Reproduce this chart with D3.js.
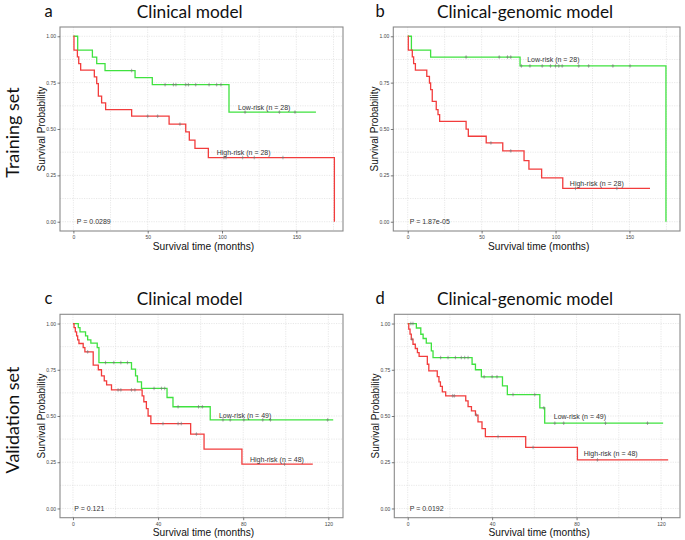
<!DOCTYPE html>
<html><head><meta charset="utf-8">
<script src="https://cdn.jsdelivr.net/npm/d3@7"></script>
<style>body{margin:0;background:#fff}svg{display:block}</style>
</head><body>
<svg id="chart" width="685" height="540"></svg>
<script>
// ---------- Data ----------
const panelLetters = ["a", "b", "c", "d"];
const panelTitles = ["Clinical model", "Clinical-genomic model", "Clinical model", "Clinical-genomic model"];
const rowLabels = ["Training set", "Validation set"];
const pValues = ["P = 0.0289", "P = 1.87e-05", "P = 0.121", "P = 0.0192"];
const lowLabels = ["Low-risk (n = 28)", "Low-risk (n = 28)", "Low-risk (n = 49)", "Low-risk (n = 49)"];
const highLabels = ["High-risk (n = 28)", "High-risk (n = 28)", "High-risk (n = 48)", "High-risk (n = 48)"];
const xTicksTraining = [0, 50, 100, 150];
const xTicksValidation = [0, 40, 80, 120];
const yTicks = [0, 0.25, 0.5, 0.75, 1];

// Panel a (training, clinical)
const aLowT = [2.9, 12.8, 15.7, 21.3, 41.5, 53.1, 104.7];
const aLowS = [0.925, 0.888, 0.852, 0.815, 0.777, 0.739, 0.591];
const aLowCens = [39.2, 61.7, 67.3, 69, 75.6, 77.4, 82.3, 91.3, 96.4, 99.3, 115.5, 138.6, 149.1];
const aLowEnd = 163.2;
const aHighT = [0.4, 2.7, 3.6, 4.9, 14.1, 15.7, 16.8, 19, 21.7, 39.2, 64.4, 75.6, 78, 81.8, 90.8, 175.6];
const aHighS = [0.925, 0.889, 0.853, 0.817, 0.781, 0.745, 0.677, 0.641, 0.605, 0.569, 0.526, 0.485, 0.44, 0.395, 0.346, 0];
const aHighCens = [50, 56.7, 71.7, 101.3, 102.7, 113.9, 121.7, 141];
const aHighEnd = 175.6;

// Panel b (training, clinical-genomic)
const bLowT = [2.5, 15.5, 76, 174.7];
const bLowS = [0.925, 0.888, 0.84, 0];
const bLowCens = [39.5, 61.9, 67.5, 69.7, 76.9, 82.7, 91, 96.6, 100, 102.2, 104.5, 115.7, 122.4, 138.8, 150.4];
const bLowEnd = 174.7;
const bHighT = [0.4, 3.1, 4, 5.2, 12.9, 14.7, 15.5, 16.6, 19.3, 20.5, 21.6, 39.5, 41, 53.1, 64.3, 78.7, 82, 90.6, 104.9];
const bHighS = [0.925, 0.889, 0.853, 0.817, 0.784, 0.748, 0.712, 0.649, 0.604, 0.577, 0.541, 0.499, 0.461, 0.425, 0.382, 0.329, 0.284, 0.237, 0.18];
const bHighCens = [56.3, 69.7, 113.5, 141.5];
const bHighEnd = 163.9;

// Panel c (validation, clinical)
const cLowT = [2.5, 3.3, 5.9, 6.9, 8.4, 11.4, 12.2, 27.5, 29.4, 30.3, 32.2, 44.2, 47, 64.5];
const cLowS = [0.978, 0.955, 0.933, 0.912, 0.894, 0.87, 0.789, 0.753, 0.717, 0.685, 0.649, 0.6, 0.55, 0.479];
const cLowCens = [15.3, 19.2, 22.5, 25.6, 38.1, 41.6, 43.1, 49.4, 59, 60.8, 70.5, 73.9, 80.3, 89.2, 92.8, 119.7];
const cLowEnd = 122.3;
const cHighT = [0.5, 1.1, 1.7, 2.2, 2.8, 4.8, 5.6, 9.5, 11.9, 13.4, 14.7, 15.8, 18.1, 32.5, 33.3, 34.5, 35.3, 36.6, 55.3, 61.6, 79.4];
const cHighS = [0.978, 0.955, 0.933, 0.912, 0.892, 0.87, 0.847, 0.775, 0.75, 0.717, 0.69, 0.668, 0.641, 0.609, 0.577, 0.54, 0.5, 0.459, 0.402, 0.321, 0.24];
const cHighCens = [6.9, 21.2, 22.5, 27.5, 29.1, 42.3, 49.4, 50.9, 58, 99.4];
const cHighEnd = 112.7;

// Panel d (validation, clinical-genomic)
const dLowT = [4.1, 6.2, 7.3, 8.8, 11.2, 12, 30.5, 32.1, 34.9, 44.9, 47.2, 62.6, 64.9];
const dLowS = [0.976, 0.942, 0.919, 0.894, 0.852, 0.816, 0.78, 0.75, 0.712, 0.663, 0.616, 0.544, 0.461];
const dLowCens = [1.5, 2.5, 15.6, 19.1, 22.6, 25.4, 27, 28.6, 36.2, 40, 42.3, 49.9, 60.2, 64.5, 69.7, 73.9, 93.7, 113.6];
const dLowEnd = 121;
const dHighT = [0.5, 1.1, 1.7, 2.5, 3.6, 4.6, 5.4, 9.3, 10, 14, 14.8, 15.5, 16.4, 18, 27.5, 28.6, 30.2, 32.1, 33.3, 35.2, 36.8, 55.9, 80.4];
const dHighS = [0.97, 0.943, 0.915, 0.888, 0.865, 0.843, 0.822, 0.78, 0.744, 0.713, 0.685, 0.66, 0.631, 0.609, 0.582, 0.551, 0.528, 0.505, 0.468, 0.432, 0.389, 0.33, 0.263];
const dHighCens = [2, 21.3, 22.1, 32.5, 42.8, 59.4, 89.9];
const dHighEnd = 123.4;

// label anchor positions in data units [time, survival]
const lowLabelPos = [[110.8, 0.616], [80.8, 0.874], [68.6, 0.505], [69.2, 0.496]];
const highLabelPos = [[96.4, 0.375], [109.7, 0.204], [83.2, 0.267], [83.4, 0.297]];
const pLabelPos = [[2.3, 0], [1.35, 0], [0.6, 0], [0.95, 0]];

// ---------- Layout ----------
const panels = [
  {x0: 60, x1: 343, y0: 27, y1: 231, xd: [-9, 181.4], ticks: xTicksTraining, minor: [25, 75, 125, 175],
   low: [aLowT, aLowS, aLowCens, aLowEnd], high: [aHighT, aHighS, aHighCens, aHighEnd]},
  {x0: 393.3, x1: 680, y0: 27, y1: 231, xd: [-9.75, 184.2], ticks: xTicksTraining, minor: [25, 75, 125, 175],
   low: [bLowT, bLowS, bLowCens, bLowEnd], high: [bHighT, bHighS, bHighCens, bHighEnd]},
  {x0: 60, x1: 343, y0: 314.3, y1: 517.7, xd: [-6.1, 126.9], ticks: xTicksValidation, minor: [20, 60, 100],
   low: [cLowT, cLowS, cLowCens, cLowEnd], high: [cHighT, cHighS, cHighCens, cHighEnd]},
  {x0: 394.3, x1: 680, y0: 314.3, y1: 517.7, xd: [-6.35, 129], ticks: xTicksValidation, minor: [20, 60, 100],
   low: [dLowT, dLowS, dLowCens, dLowEnd], high: [dHighT, dHighS, dHighCens, dHighEnd]}
];
const greenCol = "#3fe23f";
const redCol = "#f23c3c";
const titleFont = "Lato, 'Open Sans', sans-serif";
const axisFont = "'Liberation Sans', Arial, sans-serif";

const svg = d3.select("#chart");

function stepPoints(T, S, end) {
  const pts = [[0, 1]];
  T.forEach((t, i) => pts.push([t, S[i]]));
  const last = pts[pts.length - 1];
  if (end > last[0]) pts.push([end, last[1]]);
  return pts;
}
function survAt(T, S, t) {
  let s = 1;
  for (let i = 0; i < T.length; i++) if (T[i] <= t) s = S[i];
  return s;
}

panels.forEach((p, i) => {
  const x = d3.scaleLinear().domain(p.xd).range([p.x0, p.x1]);
  const y = d3.scaleLinear().domain([-0.05, 1.05]).range([p.y1, p.y0]);
  const g = svg.append("g");

  // grid
  const gridStyle = sel => sel.attr("stroke", "#d9d9d9").attr("stroke-width", 0.6).attr("stroke-dasharray", "1.2,1.2");
  const yMinor = [0.125, 0.375, 0.625, 0.875];
  g.selectAll(".vg").data(p.ticks.concat(p.minor).filter(v => x(v) < p.x1)).enter().append("line")
    .attr("x1", d => x(d)).attr("x2", d => x(d)).attr("y1", p.y0).attr("y2", p.y1).call(gridStyle);
  g.selectAll(".hg").data(yTicks.concat(yMinor)).enter().append("line")
    .attr("y1", d => y(d)).attr("y2", d => y(d)).attr("x1", p.x0).attr("x2", p.x1).call(gridStyle);

  // curves
  const line = d3.line().x(d => x(d[0])).y(d => y(d[1])).curve(d3.curveStepAfter);
  [[p.low, greenCol], [p.high, redCol]].forEach(([c, col]) => {
    const [T, S, C, end] = c;
    g.append("path").attr("d", line(stepPoints(T, S, end)))
      .attr("fill", "none").attr("stroke", col).attr("stroke-width", 1.3);
    g.selectAll(null).data(C).enter().append("path")
      .attr("d", d => { const cx = x(d), cy = y(survAt(T, S, d));
        return `M${cx},${cy - 1.8}V${cy + 1.8}M${cx - 1.3},${cy}H${cx + 1.3}`; })
      .attr("stroke", "#777").attr("stroke-width", 0.6).attr("fill", "none");
  });

  // frame
  g.append("rect").attr("x", p.x0).attr("y", p.y0).attr("width", p.x1 - p.x0).attr("height", p.y1 - p.y0)
    .attr("fill", "none").attr("stroke", "#8a8a8a").attr("stroke-width", 1.1);

  // axes
  const xAxis = d3.axisBottom(x).tickValues(p.ticks).tickSize(2.5).tickPadding(2).tickFormat(d3.format("d"));
  const ax = g.append("g").attr("transform", `translate(0,${p.y1})`).call(xAxis);
  const yAxis = d3.axisLeft(y).tickValues(yTicks).tickSize(2.5).tickPadding(1.5).tickFormat(d3.format(".2f"));
  const ay = g.append("g").attr("transform", `translate(${p.x0},0)`).call(yAxis);
  [ax, ay].forEach(a => {
    a.select(".domain").remove();
    a.selectAll(".tick line").attr("stroke", "#444").attr("stroke-width", 0.7);
    a.selectAll(".tick text").attr("fill", "#444").attr("font-size", 5).attr("font-family", axisFont);
  });

  // axis titles
  g.append("text").attr("x", (p.x0 + p.x1) / 2 + 2).attr("y", p.y1 + 18.5).attr("text-anchor", "middle")
    .attr("font-family", axisFont).attr("font-size", 10.2).attr("fill", "#111").text("Survival time (months)");
  g.append("text").attr("transform", `translate(${p.x0 - 18.5},${(p.y0 + p.y1) / 2})rotate(-90)`)
    .attr("text-anchor", "middle").attr("dy", "0.35em")
    .attr("font-family", axisFont).attr("font-size", 10).attr("fill", "#111").text("Survival Probability");

  // annotations
  const ann = (pos, txt) => g.append("text").attr("x", x(pos[0])).attr("y", y(pos[1])).attr("dy", "0.35em")
    .attr("font-family", axisFont).attr("font-size", 7).attr("fill", "#333").text(txt);
  ann(lowLabelPos[i], lowLabels[i]);
  ann(highLabelPos[i], highLabels[i]);
  ann(pLabelPos[i], pValues[i]);

  // titles
  g.append("text").attr("x", (i % 2 === 0 ? 189.7 : 525)).attr("y", p.y0 - 9.5).attr("text-anchor", "middle")
    .attr("font-family", titleFont).attr("font-size", 17.3).attr("fill", "#111").text(panelTitles[i]);
  g.append("text").attr("x", (i % 2 === 0 ? 44.5 : 375.5)).attr("y", p.y0 - 10.5).attr("font-family", titleFont)
    .attr("font-size", 16.5).attr("fill", "#111").text(panelLetters[i]);
});

// row labels
rowLabels.forEach((t, r) => {
  svg.append("text").attr("transform", `translate(18.5,${r === 0 ? 132.5 : 420})rotate(-90)`)
    .attr("text-anchor", "middle").attr("font-family", titleFont).attr("font-size", 18)
    .attr("fill", "#111").text(t);
});
</script>
</body></html>
